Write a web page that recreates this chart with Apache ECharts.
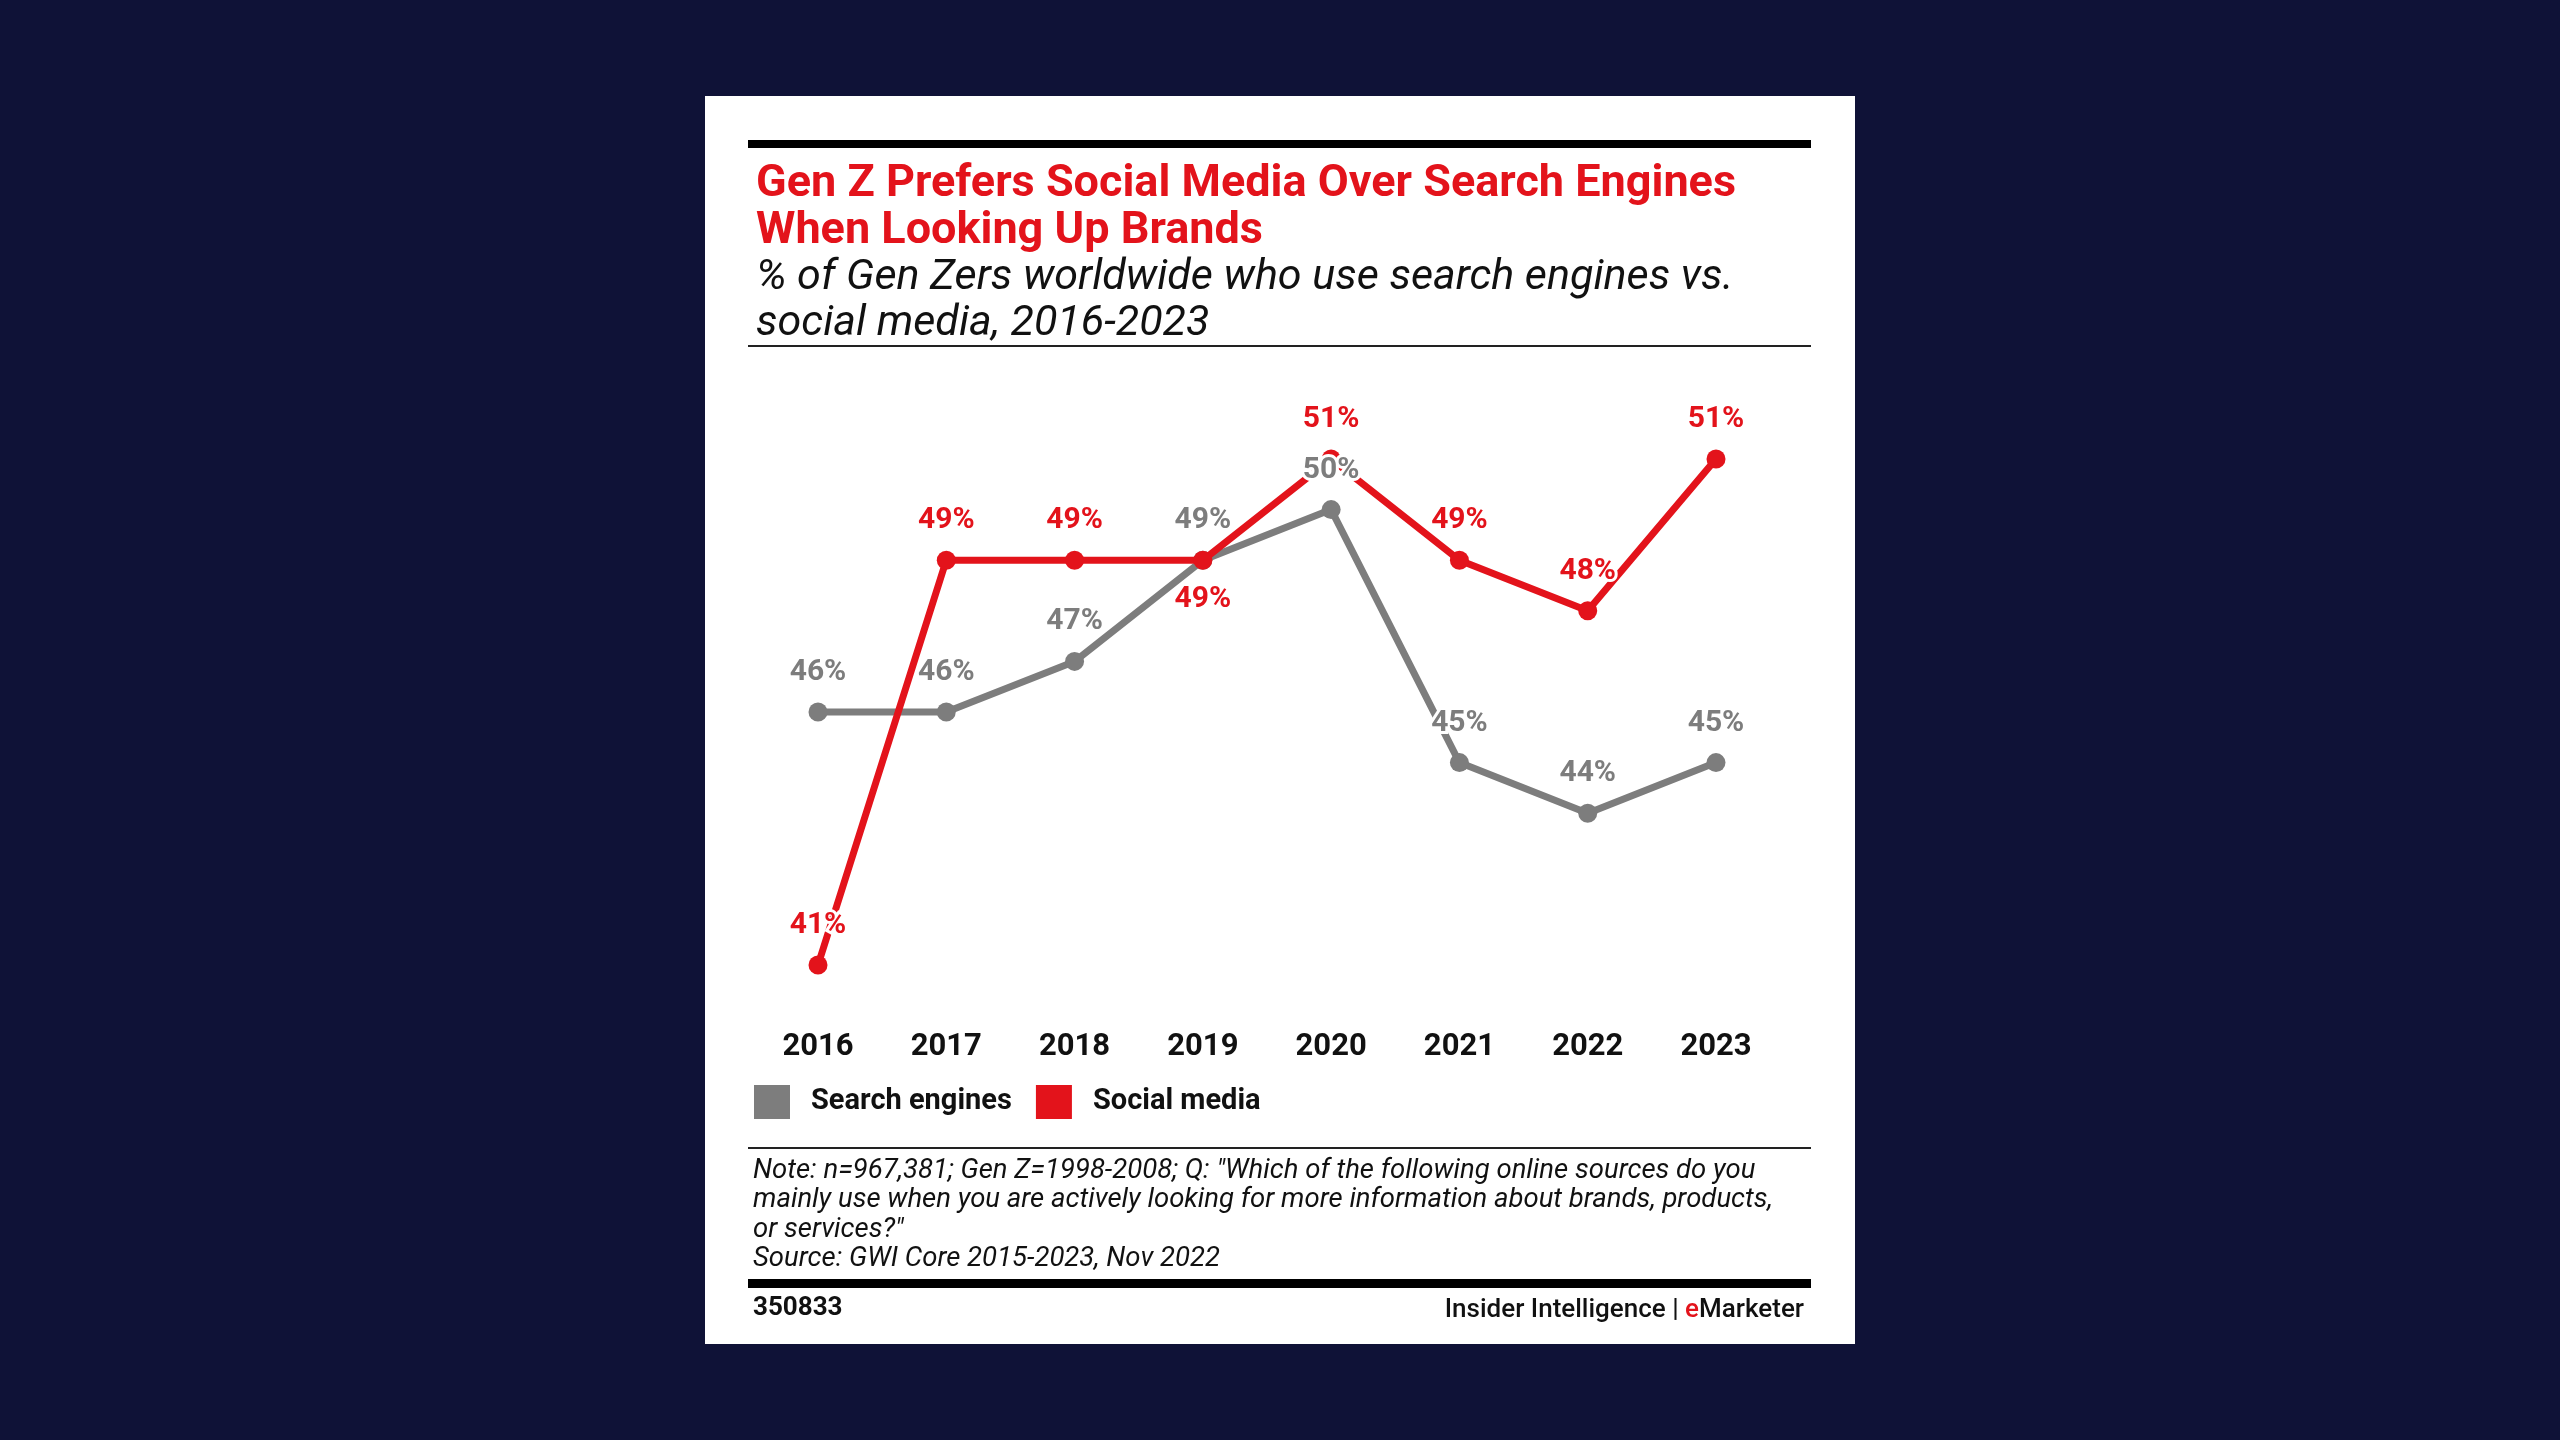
<!DOCTYPE html>
<html>
<head>
<meta charset="utf-8">
<script src="https://cdn.jsdelivr.net/npm/echarts/dist/echarts.min.js"></script>
<style>
html, body { margin: 0; padding: 0; background: #0f1237; }
#container-line { width: 2560px; height: 1440px; }
</style>
</head>
<body>
<div id="container-line"></div>
<script>
// 数据
var years = ['2016', '2017', '2018', '2019', '2020', '2021', '2022', '2023'];
var searchEngines = [46, 46, 47, 49, 50, 45, 44, 45];
var socialMedia = [41, 49, 49, 49, 51, 49, 48, 51];
var seriesNames = ['Search engines', 'Social media'];
var noteLines = [
    'Note: n=967,381; Gen Z=1998-2008; Q: "Which of the following online sources do you',
    'mainly use when you are actively looking for more information about brands, products,',
    'or services?"',
    'Source: GWI Core 2015-2023, Nov 2022'
];

var RED = '#e3131b';
var GRAY = '#7d7d7d';
var FONT = 'Roboto';

var dom = document.getElementById("container-line");
var myChart = echarts.init(dom);
var option = null;

// 标签单独一层，压在线上面
function labelData(values, belowIdx) {
    return values.map(function (v, i) {
        if (i === belowIdx) {
            return { value: v, label: { position: 'bottom' } };
        }
        return v;
    });
}

function labelSeries(name, values, color, belowIdx) {
    return {
        name: name,
        type: 'line',
        z: 5,
        silent: true,
        clip: false,
        data: labelData(values, belowIdx),
        symbol: 'circle',
        symbolSize: 1,
        lineStyle: { opacity: 0 },
        itemStyle: { color: 'rgba(0,0,0,0)' },
        label: {
            show: true,
            position: 'top',
            distance: 24,
            formatter: '{c}%',
            color: color,
            fontFamily: FONT,
            fontWeight: 'bold',
            fontSize: 30,
            textBorderColor: '#fff',
            textBorderWidth: 6
        }
    };
}

option = {
    backgroundColor: '#0f1237',
    animation: false,
    title: {
        text: 'Gen Z Prefers Social Media Over Search Engines\nWhen Looking Up Brands',
        subtext: '% of Gen Zers worldwide who use search engines vs.\nsocial media, 2016-2023',
        left: 756,
        top: 161,
        padding: 0,
        itemGap: 0,
        textStyle: {
            color: RED,
            fontFamily: FONT,
            fontWeight: 'bold',
            fontSize: 45,
            lineHeight: 47
        },
        subtextStyle: {
            color: '#111',
            fontFamily: FONT,
            fontStyle: 'italic',
            fontSize: 43,
            lineHeight: 46
        }
    },
    legend: {
        data: seriesNames,
        left: 754,
        top: 1085,
        icon: 'rect',
        itemWidth: 36,
        itemHeight: 34,
        itemGap: 24,
        padding: 0,
        textStyle: {
            color: '#111',
            fontFamily: FONT,
            fontWeight: 'bold',
            fontSize: 29,
            padding: [0, 0, 0, 16]
        }
    },
    grid: {
        left: 818,
        right: 844,
        top: 459,
        bottom: 475
    },
    xAxis: {
        type: 'category',
        data: years,
        boundaryGap: false,
        axisLine: { show: false },
        axisTick: { show: false },
        axisLabel: {
            margin: 67,
            color: '#111',
            fontFamily: FONT,
            fontWeight: 'bold',
            fontSize: 31
        }
    },
    yAxis: {
        type: 'value',
        min: 41,
        max: 51,
        show: false,
        splitLine: { show: false }
    },
    series: [
        {
            name: seriesNames[0],
            type: 'line',
            z: 2,
            clip: false,
            data: searchEngines,
            symbol: 'circle',
            symbolSize: 19,
            color: GRAY,
            lineStyle: { width: 7, color: GRAY },
            itemStyle: { color: GRAY }
        },
        {
            name: seriesNames[1],
            type: 'line',
            z: 3,
            clip: false,
            data: socialMedia,
            symbol: 'circle',
            symbolSize: 19,
            color: RED,
            lineStyle: { width: 7, color: RED },
            itemStyle: { color: RED }
        },
        labelSeries('search-label', searchEngines, GRAY, -1),
        labelSeries('social-label', socialMedia, RED, 3)
    ],
    graphic: [
        // 白色卡片
        { type: 'rect', z: -10, shape: { x: 705, y: 96, width: 1150, height: 1248 }, style: { fill: '#fff' } },
        { type: 'rect', shape: { x: 748, y: 140, width: 1063, height: 8 }, style: { fill: '#000' } },
        { type: 'rect', shape: { x: 748, y: 345, width: 1063, height: 2 }, style: { fill: '#222' } },
        { type: 'rect', shape: { x: 748, y: 1147, width: 1063, height: 2 }, style: { fill: '#222' } },
        { type: 'rect', shape: { x: 748, y: 1279, width: 1063, height: 9 }, style: { fill: '#000' } },
        {
            type: 'text',
            left: 753,
            top: 1156,
            style: {
                text: noteLines.join('\n'),
                fill: '#111',
                font: 'italic 27.5px ' + FONT,
                lineHeight: 29.5
            }
        },
        {
            type: 'text',
            left: 753,
            top: 1295,
            style: {
                text: '350833',
                fill: '#111',
                font: 'bold 26px ' + FONT
            }
        },
        {
            type: 'text',
            right: 2560 - 1804,
            top: 1297,
            style: {
                text: '{a|Insider Intelligence | }{b|e}{a|Marketer}',
                rich: {
                    a: { fill: '#111', fontFamily: FONT, fontWeight: 500, fontSize: 26 },
                    b: { fill: RED, fontFamily: FONT, fontWeight: 500, fontSize: 26 }
                }
            }
        }
    ]
};

if (option && typeof option === "object") {
    myChart.setOption(option, true);
}
</script>
</body>
</html>
